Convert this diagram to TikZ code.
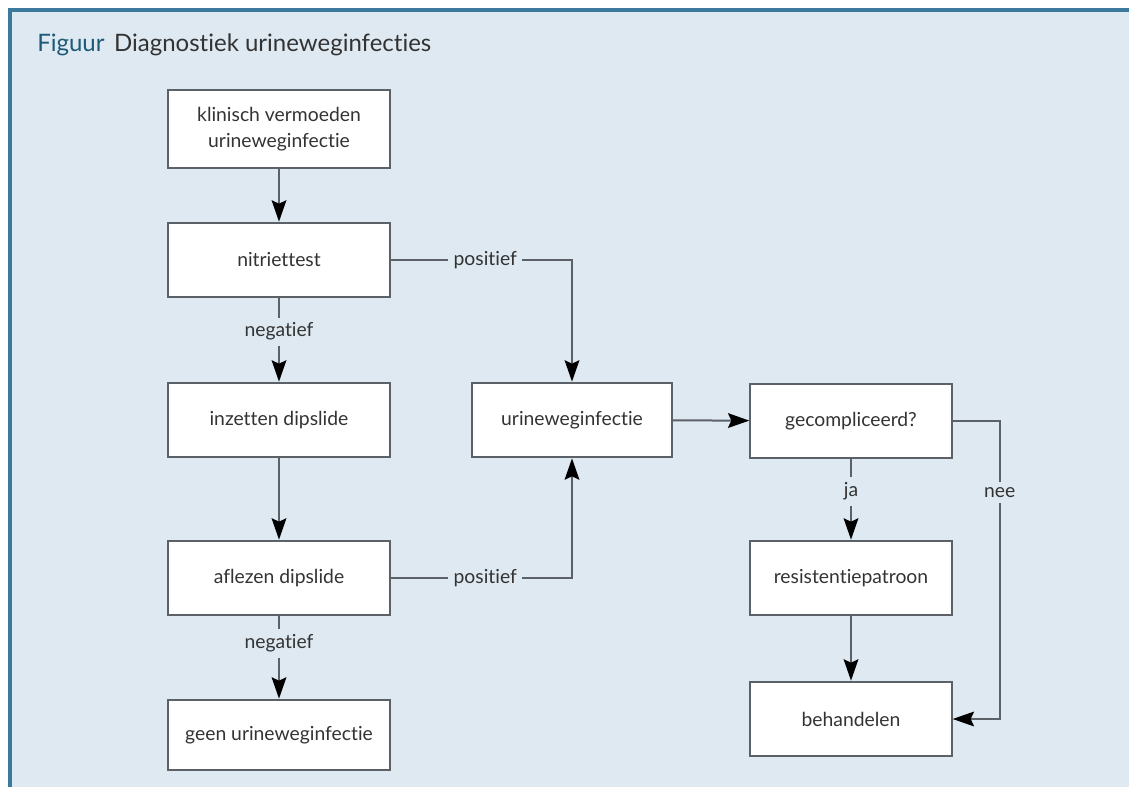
\documentclass[tikz,border=0pt]{standalone}
\usepackage{fontspec}
\setmainfont{Lato}[Ligatures={NoCommon,NoRare}]
\usetikzlibrary{arrows.meta, positioning}
\definecolor{bgblue}{HTML}{DEE9F1}
\definecolor{frameblue}{HTML}{3B7A9C}
\definecolor{figblue}{HTML}{1E5A78}
\definecolor{linegray}{HTML}{5C6168}
\definecolor{txtgray}{HTML}{333333}
\tikzstyle{box}=[draw=linegray,line width=1.5pt,fill=white,align=center,text=txtgray,
  minimum width=167pt,minimum height=56pt,inner sep=2pt,font=\fontsize{14.5}{19}\selectfont]
\tikzstyle{sbox}=[box,minimum width=151pt]
\tikzstyle{lbl}=[fill=bgblue,text=txtgray,inner sep=4pt,font=\fontsize{14.5}{17}\selectfont]
\tikzstyle{arr}=[draw=linegray,line width=1.5pt,
  -{Stealth[length=16pt,width=11pt,inset=2.5pt,black]}]

\begin{document}
\begin{tikzpicture}[x=0.75pt,y=-0.75pt]
  \useasboundingbox (0,0) rectangle (1129,787);
  % frame
  \fill[bgblue] (10,10) rectangle (1129,787);
  \draw[frameblue,line width=2.4pt] (10,787) -- (10,10) -- (1129,10);
  \node[anchor=base west,inner sep=0pt,font=\fontsize{18}{21}\selectfont] (title) at (37,52)
    {\textcolor{figblue}{Figuur}\hspace{0.4em}\textcolor{txtgray}{Diagnostiek urineweginfecties}};

  % left column
  \node[box,minimum height=58pt] (klin) at (279,129) {klinisch vermoeden\\urineweginfectie};
  \node[box] (nitr) at (279,260) {nitriettest};
  \node[box] (inz)  at (279,420) {inzetten dipslide};
  \node[box] (afl)  at (279,578) {aflezen dipslide};
  \node[box,minimum height=53pt] (geen) at (279,735) {geen urineweginfectie};
  % middle and right
  \node[sbox,minimum width=150pt] (uwi) at (572,420) {urineweginfectie};
  \node[sbox] (gec) at (851,421) {gecompliceerd?};
  \node[sbox] (res) at (851,578) {resistentiepatroon};
  \node[sbox] (beh) at (851,719) {behandelen};

  % connectors
  \draw[arr] (klin) -- (nitr);
  \draw[arr] (nitr) -- node[lbl,pos=0.4] {negatief} (inz);
  \draw[arr] (inz) -- (afl);
  \draw[arr] (afl) -- node[lbl,pos=0.33] {negatief} (geen);
  \draw[arr] (nitr.east) -- node[lbl,pos=0.52] {positief} (nitr.east -| uwi.north) -- (uwi.north);
  \draw[arr] (afl.east) -- node[lbl,pos=0.52] {positief} (afl.east -| uwi.south) -- (uwi.south);
  \draw[arr] (uwi) -- (gec);
  \draw[arr] (gec) -- node[lbl,pos=0.4] {ja} (res);
  \draw[arr] (res) -- (beh);
  \draw[arr] (gec.east) -- ++(47,0) |- node[lbl,pos=0.12] {nee} (beh.east);
\end{tikzpicture}
\end{document}
